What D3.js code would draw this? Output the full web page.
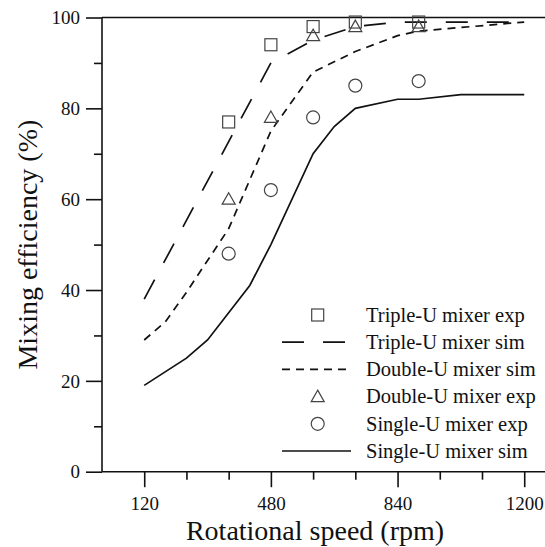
<!DOCTYPE html>
<html>
<head>
<meta charset="utf-8">
<script src="https://cdn.jsdelivr.net/npm/d3@7"></script>
<style>
  body { margin: 0; background: white; }
  svg { display: block; font-family: "Liberation Serif", "Times New Roman", serif; }
</style>
</head>
<body>
<svg id="chart"></svg>
<script>
// experimental points
var expRpm = [360, 480, 600, 720, 900];
var tripleExp = [77, 94, 98, 99, 99];
var doubleExp = [60, 78, 96, 98, 98];
var singleExp = [48, 62, 78, 85, 86];

// simulation curves
var tripleSimRpm = [120, 480, 600, 720, 840, 1200];
var tripleSim = [38, 90, 95, 98, 99, 99];
var doubleSimRpm = [120, 180, 240, 360, 480, 600, 720, 840, 900, 1200];
var doubleSim = [29, 33, 39.5, 53.5, 75, 88, 92.5, 96, 97, 99];
var singleSimRpm = [120, 240, 300, 360, 420, 480, 600, 660, 720, 840, 900, 1020, 1200];
var singleSim = [19, 25, 29, 35, 41, 50, 70, 76, 80, 82, 82, 83, 83];

var xTickLabels = [120, 480, 840, 1200];
var yTickLabels = [0, 20, 40, 60, 80, 100];

var legendLabels = ["Triple-U mixer exp", "Triple-U mixer sim", "Double-U mixer sim",
                    "Double-U mixer exp", "Single-U mixer exp", "Single-U mixer sim"];

var W = 545, H = 547;
var margin = {top: 17.5, left: 102, bottom: 75.3};

var svg = d3.select("#chart").attr("width", W).attr("height", H);
svg.append("rect").attr("width", W).attr("height", H).attr("fill", "white");

var x = d3.scaleLinear().domain([0, 1260]).range([margin.left, margin.left + 1260 * 0.35185]);
var y = d3.scaleLinear().domain([0, 100]).range([H - margin.bottom, margin.top]);

var axisColor = "#111";

// x axis (ticks pointing down, major + minor)
var xAxis = svg.append("g").attr("transform", "translate(0," + y(0) + ")");
xAxis.call(d3.axisBottom(x).tickValues(d3.range(120, 1201, 120)).tickSize(0).tickFormat(""));
xAxis.select(".domain").remove();
xAxis.selectAll(".tick line").remove();
xAxis.selectAll(".tick").append("line")
  .attr("y2", d => xTickLabels.indexOf(d) >= 0 ? 15.5 : 8)
  .attr("stroke", axisColor).attr("stroke-width", 1.6);
xAxis.selectAll(".tick text")
  .text(d => xTickLabels.indexOf(d) >= 0 ? d : "")
  .attr("y", 38.8).attr("dy", 0)
  .style("font-size", "19px").attr("fill", "#111").style("font-family", "Liberation Serif");

// y axis (ticks pointing left, major + minor)
var yAxis = svg.append("g").attr("transform", "translate(" + x(0) + ",0)");
yAxis.call(d3.axisLeft(y).tickValues(d3.range(0, 101, 10)).tickSize(0).tickFormat(""));
yAxis.select(".domain").remove();
yAxis.selectAll(".tick line").remove();
yAxis.selectAll(".tick").append("line")
  .attr("x2", d => yTickLabels.indexOf(d) >= 0 ? -16 : -8)
  .attr("stroke", axisColor).attr("stroke-width", 1.6);
yAxis.selectAll(".tick text")
  .text(d => yTickLabels.indexOf(d) >= 0 ? d : "")
  .attr("x", -22).attr("dy", "0.33em")
  .style("font-size", "19px").attr("fill", "#111").style("font-family", "Liberation Serif");

// frame lines
svg.append("line").attr("x1", x(0)).attr("x2", W).attr("y1", y(0)).attr("y2", y(0))
  .attr("stroke", axisColor).attr("stroke-width", 1.6);
svg.append("line").attr("x1", x(0)).attr("x2", W).attr("y1", y(100)).attr("y2", y(100))
  .attr("stroke", axisColor).attr("stroke-width", 1.6);
svg.append("line").attr("x1", x(0)).attr("x2", x(0)).attr("y1", y(100)).attr("y2", y(0))
  .attr("stroke", axisColor).attr("stroke-width", 1.6);

// axis titles
svg.append("text").attr("x", 315).attr("y", 540).attr("text-anchor", "middle")
  .style("font-size", "28px").attr("fill", "#111").text("Rotational speed (rpm)");
svg.append("text").attr("transform", "translate(37," + y(50) + ") rotate(-90)")
  .attr("text-anchor", "middle")
  .style("font-size", "28px").attr("fill", "#111").text("Mixing efficiency (%)");

// lines
var line = d3.line().x(d => x(d[0])).y(d => y(d[1]));
var zip = (a, b) => a.map((v, i) => [v, b[i]]);

var styles = {
  triple: {dash: "22,19"},
  double: {dash: "8,6"},
  single: {dash: null}
};

function drawSim(xs, ys, dash) {
  svg.append("path").datum(zip(xs, ys))
    .attr("d", line).attr("fill", "none")
    .attr("stroke", "#111").attr("stroke-width", 1.7)
    .attr("stroke-dasharray", dash);
}
drawSim(tripleSimRpm, tripleSim, styles.triple.dash);
drawSim(doubleSimRpm, doubleSim, styles.double.dash);
drawSim(singleSimRpm, singleSim, styles.single.dash);

// markers
var markColor = "#444";
function square(g, cx, cy) {
  g.append("rect").attr("x", cx - 6).attr("y", cy - 6).attr("width", 12).attr("height", 12)
    .attr("fill", "none").attr("stroke", markColor).attr("stroke-width", 1.2);
}
function triangle(g, cx, cy) {
  g.append("path").attr("d", "M" + cx + "," + (cy - 6.5) + "L" + (cx + 6.5) + "," + (cy + 5) +
      "L" + (cx - 6.5) + "," + (cy + 5) + "Z")
    .attr("fill", "none").attr("stroke", markColor).attr("stroke-width", 1.2);
}
function circle(g, cx, cy) {
  g.append("circle").attr("cx", cx).attr("cy", cy).attr("r", 6.5)
    .attr("fill", "none").attr("stroke", markColor).attr("stroke-width", 1.2);
}

var marks = svg.append("g");
expRpm.forEach(function(r, i) {
  square(marks, x(r), y(tripleExp[i]));
  triangle(marks, x(r), y(doubleExp[i]));
  circle(marks, x(r), y(singleExp[i]));
});

// legend
var leg = svg.append("g");
var legTop = 315, legStep = 27.2, symX = 317.7, textX = 366;
legendLabels.forEach(function(lbl, i) {
  var cy = legTop + i * legStep;
  if (i === 0) square(leg, symX, cy);
  if (i === 3) triangle(leg, symX, cy);
  if (i === 4) circle(leg, symX, cy);
  if (i === 1 || i === 2 || i === 5) {
    var dash = i === 1 ? styles.triple.dash : (i === 2 ? styles.double.dash : null);
    leg.append("line").attr("x1", 282).attr("x2", 351).attr("y1", cy).attr("y2", cy)
      .attr("stroke", "#111").attr("stroke-width", 1.7).attr("stroke-dasharray", dash);
  }
  leg.append("text").attr("x", textX).attr("y", cy).attr("dy", "0.33em")
    .style("font-size", "20.5px").attr("fill", "#111").text(lbl);
});
</script>
</body>
</html>
